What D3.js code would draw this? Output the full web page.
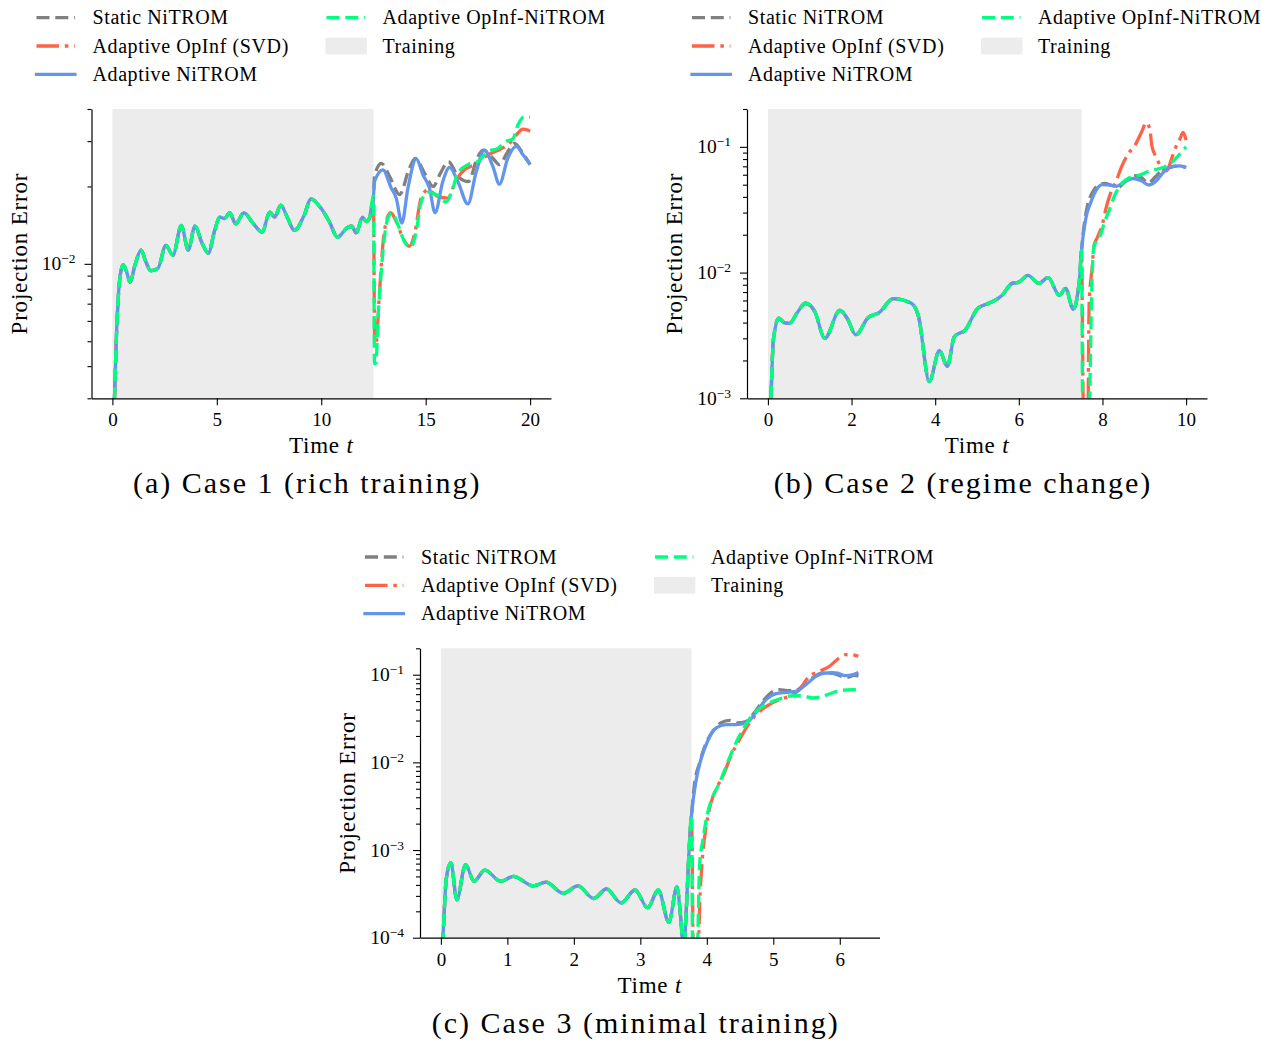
<!DOCTYPE html>
<html>
<head>
<meta charset="utf-8">
<script src="https://cdn.jsdelivr.net/npm/d3@7"></script>
<style>
  body { margin: 0; background: #fff; }
  svg { display: block; }
</style>
</head>
<body>
<svg id="fig" width="1261" height="1042"></svg>
<script>
// ---------- Case 1: rich training (training window ends at t = 12.5) ----------
const case1TrainEnd = 12.5;
const case1Train = [[0.0,0.0015],[0.1,0.0030],[0.2,0.0054],[0.3,0.0078],[0.4,0.0093],[0.52,0.0099],[0.68,0.0093],[0.84,0.0085],[1.1,0.0100],[1.37,0.0113],[1.6,0.0102],[1.84,0.0094],[2.18,0.0096],[2.56,0.0118],[2.9,0.0108],[3.3,0.0141],[3.63,0.0113],[3.95,0.0140],[4.3,0.0120],[4.59,0.0110],[4.9,0.0135],[5.14,0.0152],[5.36,0.0150],[5.62,0.0158],[5.9,0.0143],[6.3,0.0158],[6.7,0.0145],[7.17,0.0133],[7.54,0.0159],[7.77,0.0152],[8.06,0.0169],[8.4,0.0150],[8.71,0.0135],[9.19,0.0155],[9.5,0.0179],[10.0,0.0164],[10.4,0.0145],[10.77,0.0127],[11.29,0.0139],[11.46,0.0140],[11.67,0.0132],[11.98,0.0152],[12.15,0.0146],[12.3,0.0150],[12.5,0.0183]];
const case1Static = [[12.55,0.0219],[12.87,0.0246],[13.27,0.0219],[13.75,0.0186],[14.22,0.0235],[14.5,0.0257],[14.95,0.0225],[15.35,0.0200],[15.74,0.0228],[16.09,0.0250],[16.54,0.0219],[17.05,0.0209],[17.46,0.0257],[17.74,0.0277],[18.22,0.0257],[18.53,0.0243],[18.93,0.0273],[19.25,0.0294],[19.65,0.0269],[20.0,0.0243]];
const case1OpInf = [[12.56,0.0049],[12.62,0.0049],[12.79,0.0078],[12.95,0.0119],[13.11,0.0146],[13.32,0.0158],[13.59,0.0146],[13.91,0.0126],[14.22,0.0117],[14.46,0.0130],[14.78,0.0180],[15.1,0.0194],[15.58,0.0183],[16.06,0.0180],[16.46,0.0212],[16.86,0.0232],[17.34,0.0243],[17.98,0.0265],[18.61,0.0280],[19.01,0.0294],[19.41,0.0322],[19.65,0.0334],[19.89,0.0331],[20.0,0.0328]];
const case1NiTROM = [[12.55,0.0209],[12.95,0.0232],[13.35,0.0197],[13.59,0.0180],[13.86,0.0144],[14.15,0.0197],[14.55,0.0256],[14.87,0.0222],[15.18,0.0197],[15.45,0.0158],[15.82,0.0209],[16.14,0.0237],[16.54,0.0209],[17.02,0.0171],[17.42,0.0228],[17.81,0.0277],[18.22,0.0239],[18.53,0.0204],[18.93,0.0257],[19.33,0.0286],[19.65,0.0266],[20.0,0.0243]];
const case1OpInfNiTROM = [[12.55,0.0041],[12.62,0.0041],[12.71,0.0060],[12.84,0.0086],[13.0,0.0122],[13.19,0.0151],[13.38,0.0158],[13.67,0.0142],[13.98,0.0122],[14.27,0.0116],[14.55,0.0134],[14.78,0.0174],[15.1,0.0190],[15.5,0.0186],[15.98,0.0174],[16.22,0.0188],[16.54,0.0225],[17.02,0.0243],[17.5,0.0250],[17.98,0.0273],[18.46,0.0281],[18.85,0.0299],[19.17,0.0306],[19.41,0.0346],[19.73,0.0373],[20.0,0.0372]];

// ---------- Case 2: regime change (training window ends at t = 7.5) ----------
const case2TrainEnd = 7.5;
const case2Train = [[0.0,0.0005],[0.07,0.0010],[0.13,0.0029],[0.26,0.00435],[0.39,0.0040],[0.52,0.00395],[0.7,0.0048],[0.9,0.0057],[1.12,0.0049],[1.36,0.0030],[1.72,0.0050],[1.9,0.0043],[2.1,0.0032],[2.4,0.0044],[2.66,0.0048],[3.0,0.0062],[3.43,0.0057],[3.6,0.0045],[3.86,0.00136],[4.1,0.0024],[4.29,0.0018],[4.46,0.0031],[4.72,0.0035],[5.02,0.0052],[5.28,0.0057],[5.58,0.0065],[5.84,0.0082],[6.0,0.0084],[6.22,0.0095],[6.48,0.0082],[6.7,0.0091],[6.97,0.0066],[7.12,0.0075],[7.3,0.0051],[7.45,0.0088],[7.5,0.0150]];
const case2Static = [[7.56,0.0236],[7.64,0.034],[7.76,0.0434],[7.88,0.049],[8.05,0.0512],[8.2,0.0497],[8.37,0.0475],[8.56,0.0537],[8.77,0.0589],[8.93,0.0570],[9.09,0.0516],[9.25,0.0570],[9.41,0.0645],[9.61,0.0685],[9.81,0.0707],[10.0,0.0685]];
const case2OpInf = [[7.55,0.0006],[7.65,0.0006],[7.68,0.0055],[7.75,0.0107],[7.8,0.0164],[7.88,0.0191],[7.99,0.0236],[8.08,0.032],[8.2,0.0434],[8.33,0.0537],[8.45,0.0685],[8.61,0.0875],[8.77,0.1018],[8.93,0.13],[9.05,0.156],[9.14,0.134],[9.18,0.102],[9.29,0.082],[9.41,0.0685],[9.53,0.0645],[9.56,0.066],[9.65,0.080],[9.75,0.0987],[9.85,0.115],[9.93,0.13],[10.0,0.113]];
const case2NiTROM = [[7.6,0.0267],[7.72,0.0361],[7.84,0.0447],[8.0,0.0500],[8.17,0.0497],[8.33,0.0485],[8.53,0.0528],[8.73,0.0560],[8.93,0.0537],[9.11,0.0497],[9.29,0.0537],[9.45,0.0625],[9.69,0.0698],[9.85,0.0707],[10.0,0.0685]];
const case2OpInfNiTROM = [[7.53,0.0006],[7.68,0.0006],[7.72,0.0030],[7.75,0.0089],[7.8,0.0164],[7.84,0.0174],[7.96,0.0203],[8.05,0.0251],[8.17,0.032],[8.29,0.0409],[8.45,0.0506],[8.65,0.0571],[8.89,0.0596],[9.13,0.0645],[9.37,0.0673],[9.61,0.073],[9.81,0.0848],[10.0,0.100]];

// ---------- Case 3: minimal training (training window ends at t = 0.6 * 2pi) ----------
const case3TrainEnd = 0.6 * 2 * Math.PI;
const case3Train = [[0.0,0.00005],[0.03,0.0001],[0.08,0.00046],[0.15,0.00072],[0.24,0.00027],[0.37,0.00068],[0.5,0.00044],[0.66,0.00059],[0.9,0.00044],[1.09,0.0005],[1.39,0.00039],[1.58,0.00043],[1.84,0.00032],[2.06,0.00039],[2.3,0.00028],[2.49,0.00036],[2.71,0.00025],[2.92,0.00035],[3.11,0.00022],[3.27,0.00035],[3.43,0.00015],[3.55,0.00038],[3.61,0.00016],[3.65,0.00007],[3.69,0.0002],[3.73,0.0009],[3.77,0.0025]];
const case3Static = [[3.81,0.0053],[3.89,0.0098],[3.99,0.0166],[4.09,0.0226],[4.21,0.0281],[4.34,0.0301],[4.46,0.0281],[4.59,0.0293],[4.71,0.0365],[4.84,0.0496],[4.96,0.0618],[5.09,0.0674],[5.21,0.0657],[5.34,0.0662],[5.46,0.0769],[5.59,0.0917],[5.74,0.1045],[5.88,0.1045],[6.03,0.0956],[6.13,0.094],[6.21,0.098],[6.28,0.097]];
const case3OpInf = [[3.8,0.00005],[3.86,0.00005],[3.9,0.00032],[3.94,0.00092],[3.99,0.00185],[4.06,0.0034],[4.16,0.0053],[4.26,0.0075],[4.36,0.0117],[4.49,0.0181],[4.64,0.0281],[4.79,0.0381],[4.94,0.0455],[5.09,0.0519],[5.23,0.0565],[5.39,0.0674],[5.54,0.0957],[5.69,0.109],[5.84,0.124],[5.99,0.155],[6.09,0.169],[6.18,0.169],[6.28,0.162]];
const case3NiTROM = [[3.84,0.0063],[3.91,0.0107],[4.01,0.0173],[4.14,0.0247],[4.29,0.0269],[4.44,0.0269],[4.59,0.0281],[4.74,0.0371],[4.89,0.0519],[5.04,0.0607],[5.19,0.0628],[5.34,0.0645],[5.49,0.0769],[5.64,0.0956],[5.79,0.1045],[5.94,0.1045],[6.09,0.0974],[6.2,0.100],[6.28,0.106]];
const case3OpInfNiTROM = [[3.79,0.00005],[3.85,0.00005],[3.89,0.00065],[3.94,0.0013],[4.01,0.0026],[4.09,0.0041],[4.19,0.0058],[4.29,0.0090],[4.39,0.0139],[4.54,0.0235],[4.69,0.0349],[4.84,0.0435],[4.99,0.0496],[5.14,0.0542],[5.29,0.0575],[5.44,0.0575],[5.59,0.0542],[5.74,0.0565],[5.88,0.0618],[6.03,0.0662],[6.18,0.0674],[6.28,0.0674]];

// ---------- Axis ticks and labels ----------
const case1XTicks = [0, 5, 10, 15, 20];
const case2XTicks = [0, 2, 4, 6, 8, 10];
const case3XTicks = [0, 1, 2, 3, 4, 5, 6];
const case1YTicks = [1e-2];
const case2YTicks = [1e-3, 1e-2, 1e-1];
const case3YTicks = [1e-4, 1e-3, 1e-2, 1e-1];
const captions = ["(a) Case 1 (rich training)", "(b) Case 2 (regime change)", "(c) Case 3 (minimal training)"];
const seriesNames = ["Static NiTROM", "Adaptive OpInf (SVD)", "Adaptive NiTROM", "Adaptive OpInf-NiTROM"];
const trainingLabel = "Training";

// ---------- Styles ----------
const FONT = "'Liberation Serif', 'Times New Roman', serif";
const LW = 3.3;
const seriesStyles = [
  { color: "#808080", dash: "13 5.8", cap: "butt" },
  { color: "#ff6347", dash: "22.5 5.8 3.6 5.8", cap: "butt" },
  { color: "#6495ed", dash: null, cap: "square" },
  { color: "#00ff7f", dash: "13 5.8", cap: "butt" }
];
const shadeColor = "#ececec";

const panels = [
  { left: 91.5, top: 109, right: 551, bottom: 398.3, xDomain: [-1, 21], yDomain: [3e-3, 4e-2],
    xTicks: case1XTicks, yTicks: case1YTicks, trainEnd: case1TrainEnd, train: case1Train,
    series: [case1Static, case1OpInf, case1NiTROM, case1OpInfNiTROM], caption: captions[0] },
  { left: 747, top: 109, right: 1207, bottom: 398.3, xDomain: [-0.5, 10.5], yDomain: [1e-3, 0.2],
    xTicks: case2XTicks, yTicks: case2YTicks, trainEnd: case2TrainEnd, train: case2Train,
    series: [case2Static, case2OpInf, case2NiTROM, case2OpInfNiTROM], caption: captions[1] },
  { left: 420, top: 648.3, right: 879.5, bottom: 937.7, xDomain: [-0.1 * Math.PI, 2.1 * Math.PI], yDomain: [1e-4, 0.2],
    xTicks: case3XTicks, yTicks: case3YTicks, trainEnd: case3TrainEnd, train: case3Train,
    series: [case3Static, case3OpInf, case3NiTROM, case3OpInfNiTROM], caption: captions[2] }
];

const svg = d3.select("#fig");
svg.append("rect").attr("width", 1261).attr("height", 1042).attr("fill", "#fff");

function minorTicks(domain) {
  const out = [];
  const lo = Math.floor(Math.log10(domain[0])), hi = Math.ceil(Math.log10(domain[1]));
  for (let e = lo; e <= hi; e++) {
    for (let k = 2; k <= 9; k++) {
      const v = k * Math.pow(10, e);
      if (v >= domain[0] * 0.9999 && v <= domain[1] * 1.0001) out.push(v);
    }
  }
  return out;
}

panels.forEach((p, pi) => {
  const w = p.right - p.left, h = p.bottom - p.top;
  const x = d3.scaleLinear().domain(p.xDomain).range([0, w]);
  const y = d3.scaleLog().domain(p.yDomain).range([h, 0]);
  const g = svg.append("g").attr("transform", `translate(${p.left},${p.top})`);

  const clipId = "clip" + pi;
  g.append("clipPath").attr("id", clipId)
    .append("rect").attr("x", 0).attr("y", 0).attr("width", w).attr("height", h);

  // training window
  g.append("rect")
    .attr("x", x(0)).attr("y", 0)
    .attr("width", x(p.trainEnd) - x(0)).attr("height", h)
    .attr("fill", shadeColor);

  const line = d3.line()
    .x(d => x(d[0])).y(d => y(d[1]))
    .curve(d3.curveMonotoneX);

  const lines = g.append("g").attr("clip-path", `url(#${clipId})`);
  p.series.forEach((post, si) => {
    const st = seriesStyles[si];
    lines.append("path")
      .datum(p.train.concat(post))
      .attr("d", line)
      .attr("fill", "none")
      .attr("stroke", st.color)
      .attr("stroke-width", LW)
      .attr("stroke-dasharray", st.dash)
      .attr("stroke-linecap", "butt")
      .attr("stroke-linejoin", "round");
  });

  // x axis
  const xAxis = g.append("g").attr("transform", `translate(0,${h})`)
    .call(d3.axisBottom(x).tickValues(p.xTicks).tickFormat(d3.format("d")).tickSize(7).tickSizeOuter(0));
  xAxis.selectAll("text").attr("y", 28).attr("dy", null)
    .attr("font-family", FONT).attr("font-size", 19).attr("fill", "#000");

  // y axis: minor then major ticks
  const yMinor = g.append("g")
    .call(d3.axisLeft(y).tickValues(minorTicks(p.yDomain)).tickFormat(() => "").tickSize(4).tickSizeOuter(0));
  yMinor.select(".domain").remove();
  const yAxis = g.append("g")
    .call(d3.axisLeft(y).tickValues(p.yTicks).tickFormat(() => "").tickSize(7).tickSizeOuter(0));

  [xAxis, yMinor, yAxis].forEach(a => {
    a.selectAll("line").attr("stroke", "#000").attr("stroke-width", 1.1);
    a.selectAll(".domain").attr("stroke", "#000").attr("stroke-width", 1.2);
  });

  // y tick labels as 10^n
  p.yTicks.forEach(v => {
    const e = Math.round(Math.log10(v));
    const t = g.append("text")
      .attr("x", -16).attr("y", y(v) + 6.5)
      .attr("text-anchor", "end")
      .attr("font-family", FONT).attr("font-size", 19.5).attr("fill", "#000");
    t.append("tspan").text("10");
    t.append("tspan").attr("dy", -7).attr("font-size", 13.5).text((e < 0 ? "\u2212" : "") + Math.abs(e));
  });

  // axis labels
  g.append("text")
    .attr("transform", `translate(-65,${h / 2}) rotate(-90)`)
    .attr("text-anchor", "middle")
    .attr("font-family", FONT).attr("font-size", 23).attr("letter-spacing", 0.8)
    .text("Projection Error");
  const xl = g.append("text")
    .attr("x", w / 2).attr("y", h + 55)
    .attr("text-anchor", "middle")
    .attr("font-family", FONT).attr("font-size", 23).attr("letter-spacing", 0.8);
  xl.append("tspan").text("Time ");
  xl.append("tspan").attr("font-style", "italic").text("t");

  // caption
  g.append("text")
    .attr("x", w / 2 - 14).attr("y", h + 95)
    .attr("text-anchor", "middle")
    .attr("font-family", FONT).attr("font-size", 30).attr("letter-spacing", 2)
    .text(p.caption);

  // legend (two columns above the axes)
  const rowsY = [-91.3, -63, -34.7];
  const colX = [-55, 235];
  const entries = [
    { col: 0, row: 0, s: 0 }, { col: 0, row: 1, s: 1 }, { col: 0, row: 2, s: 2 },
    { col: 1, row: 0, s: 3 }, { col: 1, row: 1, s: -1 }
  ];
  const lg = g.append("g");
  entries.forEach(en => {
    const x0 = colX[en.col], yy = rowsY[en.row];
    if (en.s >= 0) {
      const st = seriesStyles[en.s];
      lg.append("line")
        .attr("x1", x0).attr("x2", x0 + 38.4).attr("y1", yy).attr("y2", yy)
        .attr("stroke", st.color).attr("stroke-width", LW)
        .attr("stroke-dasharray", st.dash)
        .attr("stroke-linecap", st.cap === "square" ? "square" : "butt");
    } else {
      lg.append("rect")
        .attr("x", x0 - 1).attr("y", yy - 8.3).attr("width", 41.3).attr("height", 16.6)
        .attr("fill", shadeColor);
    }
    lg.append("text")
      .attr("x", x0 + 56).attr("y", yy + 6.5)
      .attr("font-family", FONT).attr("font-size", 20).attr("letter-spacing", 0.6)
      .text(en.s >= 0 ? seriesNames[en.s] : trainingLabel);
  });
});
</script>
</body>
</html>
